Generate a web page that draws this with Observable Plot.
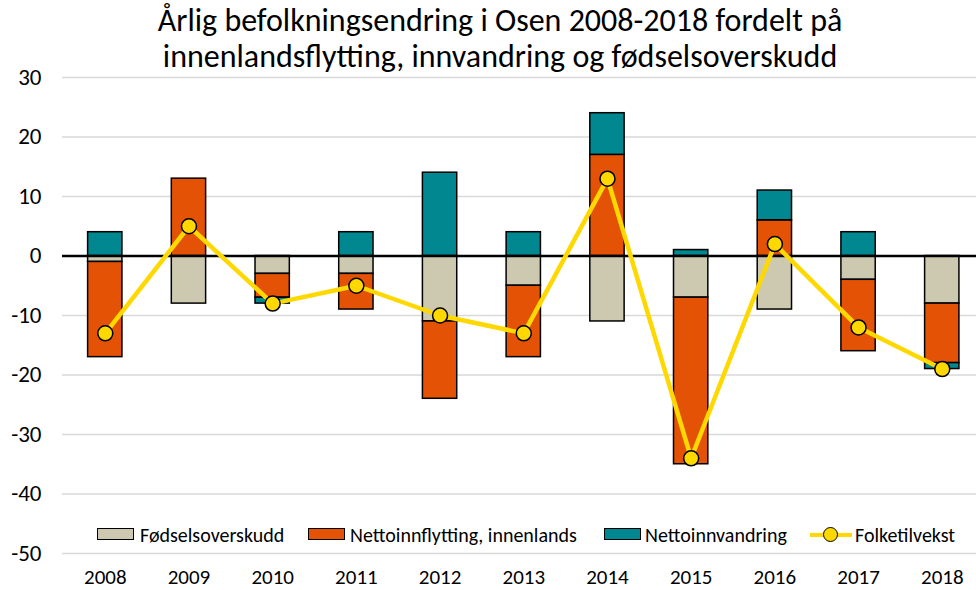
<!DOCTYPE html>
<html>
<head>
<meta charset="utf-8">
<script src="https://cdn.jsdelivr.net/npm/d3@7"></script>
<script src="https://cdn.jsdelivr.net/npm/@observablehq/plot@0.6"></script>
<style>
  html, body { margin: 0; padding: 0; background: #fff; }
  #wrap { position: relative; width: 976px; height: 590px; font-family: Carlito, "Liberation Sans Narrow", "Liberation Sans", sans-serif; color: #000; }
  #title { position: absolute; top: 3px; left: 12px; width: 976px; text-align: center; font-size: 32px; line-height: 36px; z-index: 2; white-space: nowrap; }
  #legend { position: absolute; left: 0; top: 0; width: 976px; height: 590px; pointer-events: none; z-index: 2; }
  .sw { position: absolute; top: 528px; width: 35px; height: 10px; border: 1.5px solid #000; }
  .lt { position: absolute; top: 524px; font-size: 20px; line-height: 22px; white-space: nowrap; color: #000; }
  .ln { position: absolute; top: 533px; height: 4px; background: #ffd800; }
  .dt { position: absolute; top: 527px; width: 13px; height: 13px; border-radius: 50%; background: #ffd800; border: 1.5px solid #000; }
</style>
</head>
<body>
<div id="wrap">
  <div id="title">Årlig befolkningsendring i Osen 2008-2018 fordelt på<br>innenlandsflytting, innvandring og fødselsoverskudd</div>
  <div id="chart"></div>
  <div id="legend"></div>
</div>
<script>
const years = ["2008","2009","2010","2011","2012","2013","2014","2015","2016","2017","2018"];
const seriesNames = ["Fødselsoverskudd", "Nettoinnflytting, innenlands", "Nettoinnvandring"];
const fodselsoverskudd = [-1, -8, -3, -3, -11, -5, -11, -7, -9, -4, -8];
const innenlands = [-16, 13, -4, -6, -13, -12, 17, -28, 6, -12, -10];
const innvandring = [4, 0, -1, 4, 14, 4, 7, 1, 5, 4, -1];
const folketilvekst = [-13, 5, -8, -5, -10, -13, 13, -34, 2, -12, -19];
const yTicks = [-50, -40, -30, -20, -10, 0, 10, 20, 30];
const colors = ["#cdc9b0", "#e35205", "#00878f"];
const lineColor = "#ffd800";

const seriesValues = [fodselsoverskudd, innenlands, innvandring];
const rows = [];
seriesNames.forEach((s, i) => years.forEach((y, j) => rows.push({year: y, series: s, value: seriesValues[i][j]})));
const net = years.map((y, j) => ({year: y, value: folketilvekst[j]}));

const chart = Plot.plot({
  width: 976,
  height: 590,
  marginTop: 77,
  marginBottom: 37,
  marginLeft: 62,
  marginRight: 0,
  style: {fontFamily: "Carlito, 'Liberation Sans Narrow', 'Liberation Sans', sans-serif", background: "transparent", color: "#000"},
  x: {domain: years, paddingInner: 0.59, paddingOuter: 0.255, align: 0.6, round: false, label: null, tickSize: 0, tickPadding: 16},
  y: {domain: [-50, 30], ticks: yTicks, label: null, tickSize: 0, tickPadding: 21, tickFormat: d => String(d)},
  color: {domain: seriesNames, range: colors},
  marks: [
    Plot.ruleY(yTicks.filter(d => d !== 0), {stroke: "#d9d9d9", strokeWidth: 1.5}),
    Plot.barY(rows, {x: "year", y: "value", fill: "series", stroke: "#000", strokeWidth: 1.5}),
    Plot.ruleY([0], {stroke: "#000", strokeWidth: 2.5}),
    Plot.line(net, {x: "year", y: "value", stroke: lineColor, strokeWidth: 4.5}),
    Plot.dot(net, {x: "year", y: "value", r: 7.5, fill: lineColor, stroke: "#000", strokeWidth: 1.5})
  ]
});
chart.style.position = "absolute";
chart.style.left = "0";
chart.style.top = "0";
chart.querySelectorAll("g[aria-label='y-axis tick label']").forEach(n => n.setAttribute("font-size", "23"));
chart.querySelectorAll("g[aria-label='x-axis tick label']").forEach(n => n.setAttribute("font-size", "21"));
document.getElementById("chart").appendChild(chart);

const legend = document.getElementById("legend");
const items = [
  {type: "sw", color: colors[0], label: seriesNames[0], sx: 97, tx: 140},
  {type: "sw", color: colors[1], label: seriesNames[1], sx: 308, tx: 350},
  {type: "sw", color: colors[2], label: seriesNames[2], sx: 604, tx: 645},
  {type: "ln", color: lineColor, label: "Folketilvekst", sx: 810, tx: 855}
];
items.forEach(it => {
  if (it.type === "sw") {
    const s = document.createElement("div");
    s.className = "sw"; s.style.left = it.sx + "px"; s.style.background = it.color;
    legend.appendChild(s);
  } else {
    const l = document.createElement("div");
    l.className = "ln"; l.style.left = it.sx + "px"; l.style.width = "42px";
    legend.appendChild(l);
    const d = document.createElement("div");
    d.className = "dt"; d.style.left = (it.sx + 13) + "px";
    legend.appendChild(d);
  }
  const t = document.createElement("div");
  t.className = "lt"; t.style.left = it.tx + "px"; t.textContent = it.label;
  legend.appendChild(t);
});
</script>
</body>
</html>
